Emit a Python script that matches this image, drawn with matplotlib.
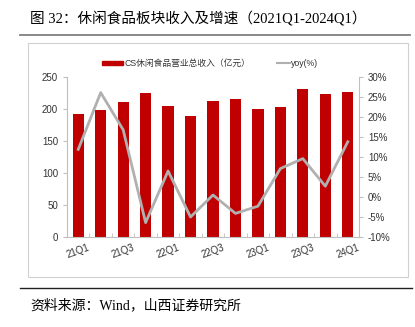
import numpy as np
import matplotlib.pyplot as plt
from matplotlib.lines import Line2D
from matplotlib.patches import Rectangle

quarters = ['21Q1', '21Q2', '21Q3', '21Q4', '22Q1', '22Q2', '22Q3',
            '22Q4', '23Q1', '23Q2', '23Q3', '23Q4', '24Q1']
revenue = [192.5, 198.7, 211, 225, 204.5, 188.8, 211.8, 216, 199.8, 202.4, 231.7, 222.8, 226.5]
yoy = [11.9, 26.1, 16.8, -6.4, 6.5, -5.0, 0.5, -4.1, -2.3, 7.1, 9.6, 2.7, 13.8]

plt.rcParams['font.family'] = ['Liberation Sans', 'Noto Sans CJK SC']
red = '#c00000'
grey = '#b0b0b0'

fig = plt.figure(figsize=(4.15, 3.27), dpi=100)

# title and rules
fig.text(30/415, 1-18/327, '图 32：休闲食品板块收入及增速（2021Q1-2024Q1）',
         family=['Liberation Serif', 'Noto Sans CJK SC'], fontsize=10.5,
         va='center', ha='left')
fig.add_artist(Line2D([20/415, 410/415], [1-35/327, 1-35/327], color='#808080', lw=1.3))
fig.add_artist(Line2D([20/415, 412/415], [1-288/327, 1-288/327], color='#202020', lw=1.0))
fig.add_artist(Rectangle((28/415, 1-277/327), 380/415, 234/327, fill=False,
                         edgecolor='#d0d0d0', lw=0.8))
fig.text(30/415, 1-305/327, '资料来源：Wind，山西证券研究所',
         family=['Liberation Serif', 'Noto Sans CJK SC'], fontsize=10,
         va='center', ha='left')

ax = fig.add_axes([67/415, 1-237/327, 292/415, 160/327])
x = np.arange(len(quarters))
ax.bar(x, revenue, width=0.5, color=red, zorder=2)
ax.set_ylim(0, 250)
ax.set_yticks(np.arange(0, 251, 50))
ax.set_xlim(-0.5, len(quarters) - 0.5)
ax.set_xticks(x[::2])
ax.set_xticklabels(quarters[::2], rotation=20, fontsize=7, color='#333333')
ax.set_xticks(np.arange(-0.5, len(quarters), 1), minor=True)
ax.tick_params(axis='x', which='major', length=0, pad=4)
ax.tick_params(axis='x', which='minor', length=3, color='#bfbfbf', direction='in')
ax.tick_params(axis='y', labelsize=7, length=3, color='#bfbfbf', colors='#333333')
ax.tick_params(axis='y', which='both', color='#bfbfbf')
for s in ['top', 'right']:
    ax.spines[s].set_visible(False)
ax.spines['left'].set_color('#bfbfbf')
ax.spines['bottom'].set_color('#bfbfbf')

ax2 = ax.twinx()
ax2.plot(x, yoy, color=grey, lw=2, zorder=3)
ax2.set_ylim(-10, 30)
ax2.set_yticks(np.arange(-10, 31, 5))
ax2.set_yticklabels([f'{v}%' for v in range(-10, 31, 5)])
ax2.tick_params(axis='y', labelsize=7, length=3, color='#bfbfbf', labelcolor='#333333')
for s in ['top', 'left', 'bottom']:
    ax2.spines[s].set_visible(False)
ax2.spines['right'].set_color('#bfbfbf')

# legend
fig.add_artist(Rectangle((102/415, 1-65/327), 21/415, 4/327, color=red))
fig.text(124/415, 1-63/327, 'CS休闲食品营业总收入（亿元）', fontsize=6.3,
         va='center', ha='left', color='#333333')
fig.add_artist(Line2D([277/415, 290/415], [1-63/327, 1-63/327], color=grey, lw=1.5))
fig.text(291/415, 1-63/327, 'yoy(%)', fontsize=6.3, va='center', ha='left', color='#333333')

fig.savefig('out.png', dpi=100)
